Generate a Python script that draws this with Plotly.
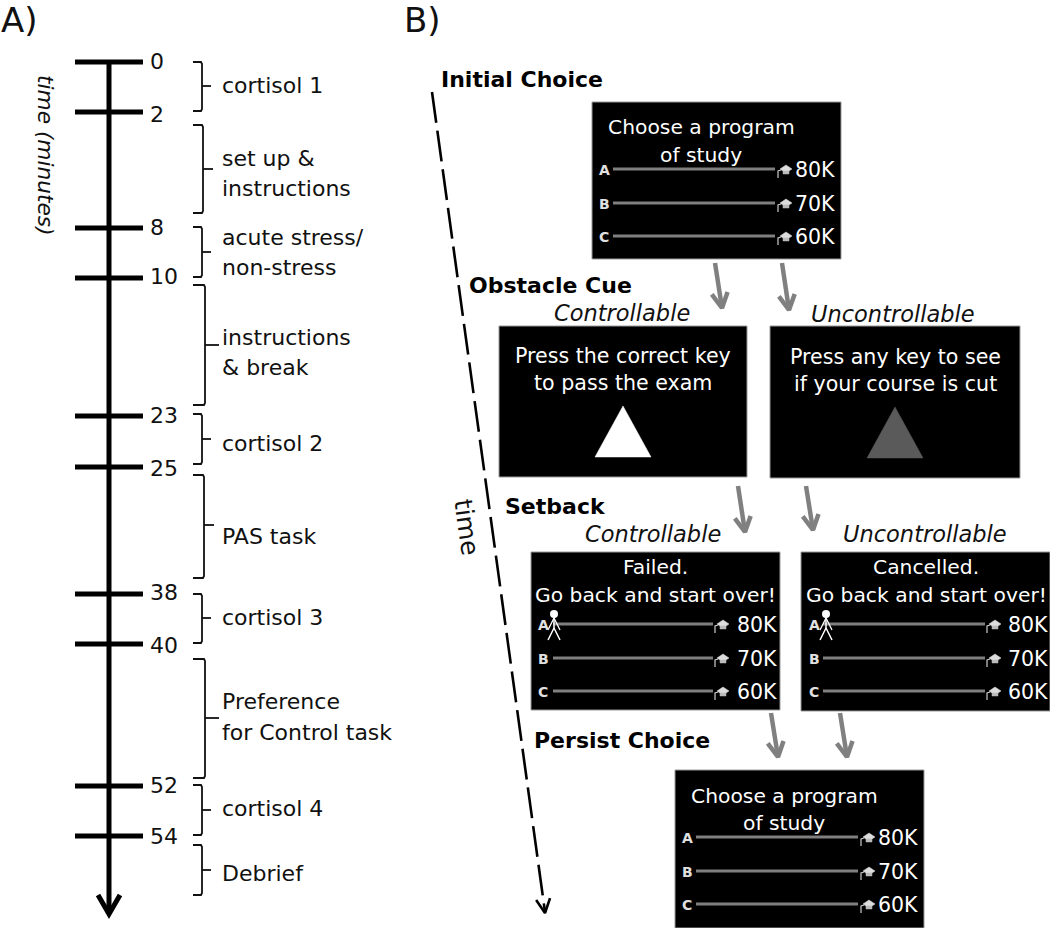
import plotly.graph_objects as go

FONT = "DejaVu Sans"
# ---- Panel A data
minutes = [0, 2, 8, 10, 23, 25, 38, 40, 52, 54]
minute_y = [62, 112, 228, 278, 416, 467, 594, 644, 786, 836]
minute_label_y = [61, 114, 227, 276, 415, 468, 592, 645, 785, 836]
brackets = [  # label lines, label ys, top, bottom, spine x, tip x, tip y
    (["cortisol 1"], [85], 62, 111, 202, 211, 86),
    (["set up &", "instructions"], [158, 188], 125, 213, 203, 213, 169),
    (["acute stress/", "non-stress"], [237, 267], 227, 277, 202, 211, 252),
    (["instructions", "& break"], [337, 367], 285, 405, 205, 219, 345),
    (["cortisol 2"], [443], 414, 464, 202, 211, 439),
    (["PAS task"], [536], 475, 578, 204, 214, 525),
    (["cortisol 3"], [617], 594, 643, 202, 211, 618),
    (["Preference", "for Control task"], [701, 732], 659, 778, 205, 219, 718),
    (["cortisol 4"], [808], 785, 835, 202, 211, 810),
    (["Debrief"], [873], 845, 895, 202, 211, 870),
]
# ---- Panel B data
stages = [("Initial Choice", 440, 79), ("Obstacle Cue", 468, 285), ("Setback", 504, 506), ("Persist Choice", 533, 740)]
conditions = [("Controllable", 622, 313), ("Uncontrollable", 893, 314), ("Controllable", 653, 534), ("Uncontrollable", 925, 534)]
rewards = ["80K", "70K", "60K"]
options = ["A", "B", "C"]
choice_panels = [  # x0, x1, y0, y1, line x0, line x1, cap x, value x, option x, rows, title lines, title x, title ys, walker x
    (592, 841, 102, 259, 613, 775, 786, 794, 604, [169, 203, 236], ["Choose a program", "of study"], 701, [127, 155], None),
    (531, 780, 552, 710, 553, 713, 725, 736, 543, [624, 658, 691], ["Failed.", "Go back and start over!"], 655, [567, 595], 554),
    (801, 1050, 552, 711, 823, 985, 997, 1007, 814, [624, 658, 691], ["Cancelled.", "Go back and start over!"], 926, [567, 595], 826),
    (675, 924, 770, 928, 696, 858, 869, 877, 687, [837, 871, 904], ["Choose a program", "of study"], 784, [796, 823], None),
]
cue_panels = [
    (499, 747, 326, 477, ["Press the correct key", "to pass the exam"], 623, [356, 383], "#ffffff", 623, 406, 457),
    (770, 1020, 326, 478, ["Press any key to see", "if your course is cut"], 895, [357, 384], "#5a5a5a", 895, 407, 458),
]
flow_arrows = [(715, 263, 722, 308), (782, 263, 789, 310), (738, 486, 745, 532),
               (806, 486, 813, 530), (771, 713, 778, 757), (840, 713, 847, 757)]

fig = go.Figure()
anns, shapes = [], []

def line(xs, ys, color="black", width=2.0, dash=None):
    fig.add_trace(go.Scatter(x=xs, y=ys, mode="lines", hoverinfo="skip", showlegend=False,
                             line=dict(color=color, width=width, dash=dash)))

def poly(xs, ys, color):
    fig.add_trace(go.Scatter(x=xs, y=ys, mode="lines", fill="toself", fillcolor=color, hoverinfo="skip",
                             showlegend=False, line=dict(color=color, width=0.5)))

def text(s, x, y, size=22, color="#111111", anchor="left", bold=False, italic=False, angle=0):
    anns.append(dict(x=x, y=y, text=s, xref="x", yref="y", showarrow=False, xanchor=anchor, yanchor="middle",
                     textangle=angle, borderpad=0,
                     font=dict(family=FONT, size=size, color=color,
                               weight="bold" if bold else "normal", style="italic" if italic else "normal")))

def chevron(x0, y0, x1, y1, color, width, back, spread):
    dx, dy = x1 - x0, y1 - y0
    n = (dx * dx + dy * dy) ** 0.5
    ux, uy = dx / n, dy / n
    line([x1 - back * ux - spread * uy, x1, x1 - back * ux + spread * uy],
         [y1 - back * uy + spread * ux, y1, y1 - back * uy - spread * ux], color, width)

# Panel A
text("A)", 0, 20, 34)
text("B)", 403, 20, 34)
text("time (minutes)", 46, 155, 21.7, italic=True, anchor="center", angle=90)
line([109, 109], [62, 912], "black", 5)
chevron(109, 62, 109, 914, "black", 5, 19, 11)
for m, y, ly in zip(minutes, minute_y, minute_label_y):
    line([75, 143], [y, y], "black", 5)
    text(str(m), 148.5, ly, 22)
for labels, ys, top, bot, sx, tip, mid in brackets:
    line([193, sx - 1, sx, sx, sx - 1, 193], [top, top, top + 2, bot - 2, bot, bot], "#111111", 1.8)
    line([sx, tip], [mid, mid], "#111111", 1.8)
    for lab, ly in zip(labels, ys):
        text(lab, 221, ly, 22)

# Panel B
for s, x, y in stages:
    text(s, x, y, 22, color="black", bold=True)
for s, x, y in conditions:
    text(s, x, y, 22.5, anchor="center", italic=True)

line([432, 545], [92, 912], "black", 2.6, dash="31px,8px")
chevron(432, 92, 545, 913, "black", 2.6, 14, 7)
text("time", 467, 527, 25, anchor="center", angle=82)

def rect(x0, x1, y0, y1):
    shapes.append(dict(type="rect", xref="x", yref="y", x0=x0, x1=x1, y0=y0, y1=y1,
                       fillcolor="black", line=dict(color="#999999", width=1), layer="below"))

def cap(x, y):
    poly([x - 6, x, x + 6, x, x - 6], [y, y - 4, y, y + 4, y], "#dddddd")
    poly([x - 3, x + 3, x + 3, x - 3, x - 3], [y + 2, y + 2, y + 5, y + 5, y + 2], "#bbbbbb")
    line([x - 8, x - 8, x - 5], [y + 9, y + 2, y + 1], "#cccccc", 1.2)

def walker(x, y):
    line([x, x], [y - 7, y + 5], "white", 1.5)
    line([x - 6, x, x + 6], [y + 6, y - 6, y + 6], "white", 1.3)
    line([x - 6, x, x + 6], [y + 16, y + 4, y + 16], "white", 1.5)
    fig.add_trace(go.Scatter(x=[x], y=[y - 10], mode="markers", hoverinfo="skip", showlegend=False,
                             marker=dict(color="white", size=8)))

for x0, x1, y0, y1, lx0, lx1, capx, valx, optx, rows, title, tx, tys, wx in choice_panels:
    rect(x0, x1, y0, y1)
    for t, ty in zip(title, tys):
        text(t, tx, ty, 20.3, color="white", anchor="center")
    for row, o, r in zip(rows, options, rewards):
        line([lx0, lx1], [row, row], "#7f7f7f", 3)
        text(o, optx, row + 1, 14, color="#e0e0e0", anchor="center", bold=True)
        cap(capx if wx is None else capx - 2, row)
        text(r, valx, row + 1, 20.5, color="white")
    if wx is not None:
        walker(wx, rows[0])

for x0, x1, y0, y1, title, tx, tys, col, cx, top, base in cue_panels:
    rect(x0, x1, y0, y1)
    for t, ty in zip(title, tys):
        text(t, tx, ty, 20.6, color="white", anchor="center")
    poly([cx - 28, cx + 28, cx, cx - 28], [base, base, top, base], col)

for x0, y0, x1, y1 in flow_arrows:
    line([x0, x1], [y0, y1], "#808080", 4.5)
    chevron(x0, y0, x1, y1, "#808080", 4.5, 15, 8)

fig.update_layout(width=1050, height=928, margin=dict(l=0, r=0, t=0, b=0),
                  paper_bgcolor="white", plot_bgcolor="white", showlegend=False,
                  xaxis=dict(range=[0, 1050], visible=False, fixedrange=True),
                  yaxis=dict(range=[928, 0], visible=False, fixedrange=True),
                  annotations=anns, shapes=shapes)
fig.write_html("out.html", config=dict(displayModeBar=False),
               post_script="document.body.style.margin='0';document.body.style.overflow='hidden';")
